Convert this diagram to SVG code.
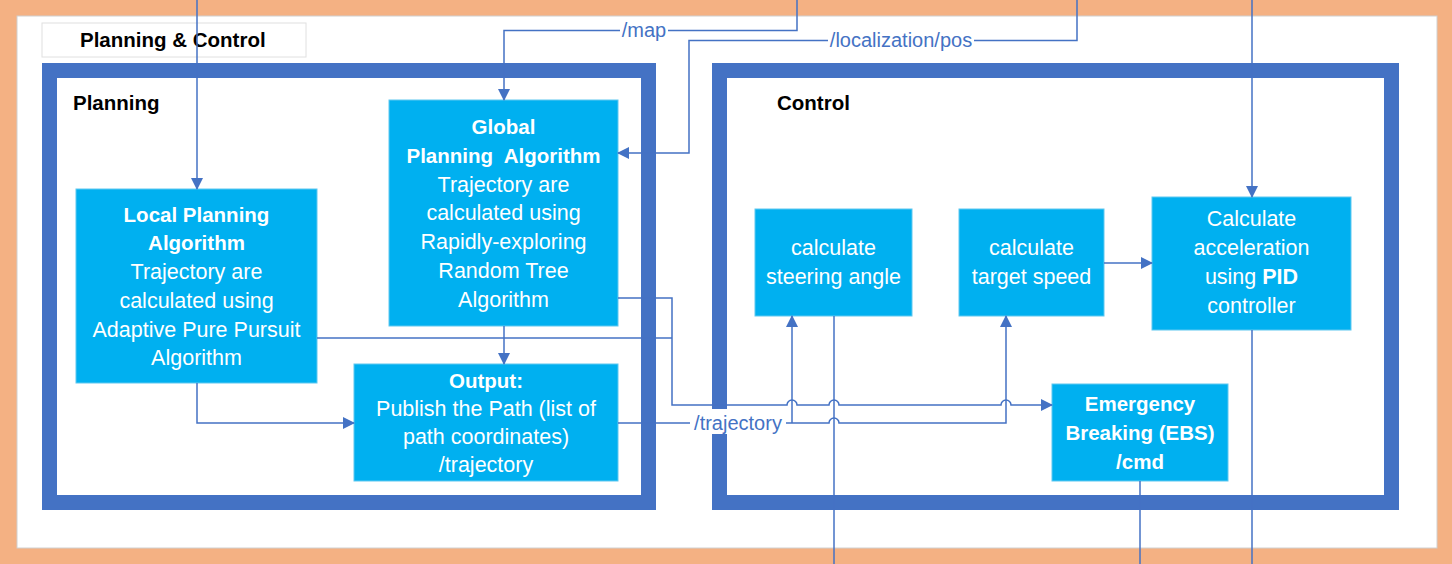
<svg xmlns="http://www.w3.org/2000/svg" width="1452" height="564" viewBox="0 0 1452 564">
<style>
.frame{fill:none;stroke:#4472C4;stroke-width:15}
.node{fill:#00B0F0;stroke:#5FC8F0;stroke-width:1}
.t{font-family:"Liberation Sans",Arial,sans-serif;font-size:21.5px;fill:#ffffff;text-anchor:middle}
.b{font-weight:bold;font-size:20.5px}
.hdr{font-family:"Liberation Sans",Arial,sans-serif;font-size:20.5px;font-weight:bold;fill:#000000}
.ln{fill:none;stroke:#4472C4;stroke-width:1.5}
.lbl{font-family:"Liberation Sans",Arial,sans-serif;font-size:20px;fill:#4472C4}
.lblbg{fill:#ffffff}
</style>
<defs>
<marker id="arr" markerWidth="12" markerHeight="12" refX="11" refY="6" orient="auto" markerUnits="userSpaceOnUse">
<path d="M0,0 L12,6 L0,12 z" fill="#4472C4"/>
</marker>
</defs>
<rect x="0" y="0" width="1452" height="564" fill="#F4B183"/>
<rect x="17" y="16" width="1420" height="532" fill="#ffffff" stroke="#D0D0D0" stroke-width="1"/>
<g id="title">
<rect x="42" y="23" width="264" height="34" fill="#ffffff" stroke="#E0E0E0" stroke-width="1"/>
<text class="hdr" x="80" y="47">Planning &amp; Control</text>
</g>
<g id="planning">
<rect class="frame" x="49.5" y="70.5" width="599" height="432"/>
<text class="hdr" x="73" y="110">Planning</text>
</g>
<g id="control">
<rect class="frame" x="719.5" y="70.5" width="672" height="432"/>
<text class="hdr" x="777" y="110">Control</text>
</g>
<g id="global">
<rect class="node" x="389" y="100" width="229" height="226"/>
<text class="t b" x="503.5" y="134">Global</text>
<text class="t b" x="503.5" y="163" style="white-space:pre">Planning  Algorithm</text>
<text class="t" x="503.5" y="192">Trajectory are</text>
<text class="t" x="503.5" y="220">calculated using</text>
<text class="t" x="503.5" y="249">Rapidly-exploring</text>
<text class="t" x="503.5" y="278">Random Tree</text>
<text class="t" x="503.5" y="307">Algorithm</text>
</g>
<g id="local">
<rect class="node" x="76" y="189" width="241" height="194"/>
<text class="t b" x="196.5" y="222">Local Planning</text>
<text class="t b" x="196.5" y="250">Algorithm</text>
<text class="t" x="196.5" y="279">Trajectory are</text>
<text class="t" x="196.5" y="308">calculated using</text>
<text class="t" x="196.5" y="337">Adaptive Pure Pursuit</text>
<text class="t" x="196.5" y="365">Algorithm</text>
</g>
<g id="output">
<rect class="node" x="354" y="364" width="264" height="117"/>
<text class="t b" x="486" y="388">Output:</text>
<text class="t" x="486" y="416">Publish the Path (list of</text>
<text class="t" x="486" y="444">path coordinates)</text>
<text class="t" x="486" y="472">/trajectory</text>
</g>
<g id="steering">
<rect class="node" x="755" y="209" width="157" height="107"/>
<text class="t" x="833.5" y="255">calculate</text>
<text class="t" x="833.5" y="284">steering angle</text>
</g>
<g id="speed">
<rect class="node" x="959" y="209" width="145" height="107"/>
<text class="t" x="1031.5" y="255">calculate</text>
<text class="t" x="1031.5" y="284">target speed</text>
</g>
<g id="accel">
<rect class="node" x="1152" y="197" width="199" height="133"/>
<text class="t" x="1251.5" y="226">Calculate</text>
<text class="t" x="1251.5" y="255">acceleration</text>
<text class="t" x="1251.5" y="284">using <tspan font-weight="bold">PID</tspan></text>
<text class="t" x="1251.5" y="313">controller</text>
</g>
<g id="ebs">
<rect class="node" x="1052" y="384" width="176" height="97"/>
<text class="t b" x="1140" y="411">Emergency</text>
<text class="t b" x="1140" y="440">Breaking (EBS)</text>
<text class="t b" x="1140" y="469">/cmd</text>
</g>
<g id="connectors">
<path class="ln" d="M197,0 V189" marker-end="url(#arr)"/>
<path class="ln" d="M797,0 V30.5 H504 V100" marker-end="url(#arr)"/>
<path class="ln" d="M1077,0 V40.5 H689 V153 H618" marker-end="url(#arr)"/>
<path class="ln" d="M1252,0 V197" marker-end="url(#arr)"/>
<path class="ln" d="M504,326 V364" marker-end="url(#arr)"/>
<path class="ln" d="M197,383 V423 H354" marker-end="url(#arr)"/>
<path class="ln" d="M317,338 H672"/>
<path class="ln" d="M618,298 H672 V405 H787 a5,5 0 0 1 10,0 H829 a5,5 0 0 1 10,0 H1001 a5,5 0 0 1 10,0 H1052" marker-end="url(#arr)"/>
<path class="ln" d="M618,423 H829 a5,5 0 0 1 10,0 H1006 V316" marker-end="url(#arr)"/>
<path class="ln" d="M792,423 V316" marker-end="url(#arr)"/>
<path class="ln" d="M1104,263 H1152" marker-end="url(#arr)"/>
<path class="ln" d="M834,316 V564"/>
<path class="ln" d="M1140,481 V564"/>
<path class="ln" d="M1252,330 V564"/>
<rect class="lblbg" x="620" y="19" width="48" height="22"/>
<text class="lbl" x="644" y="37" text-anchor="middle">/map</text>
<rect class="lblbg" x="828" y="29" width="146" height="22"/>
<text class="lbl" x="901" y="47" text-anchor="middle">/localization/pos</text>
<rect class="lblbg" x="690" y="409" width="96" height="25"/>
<text class="lbl" x="738" y="430" text-anchor="middle">/trajectory</text>
</g>
</svg>
